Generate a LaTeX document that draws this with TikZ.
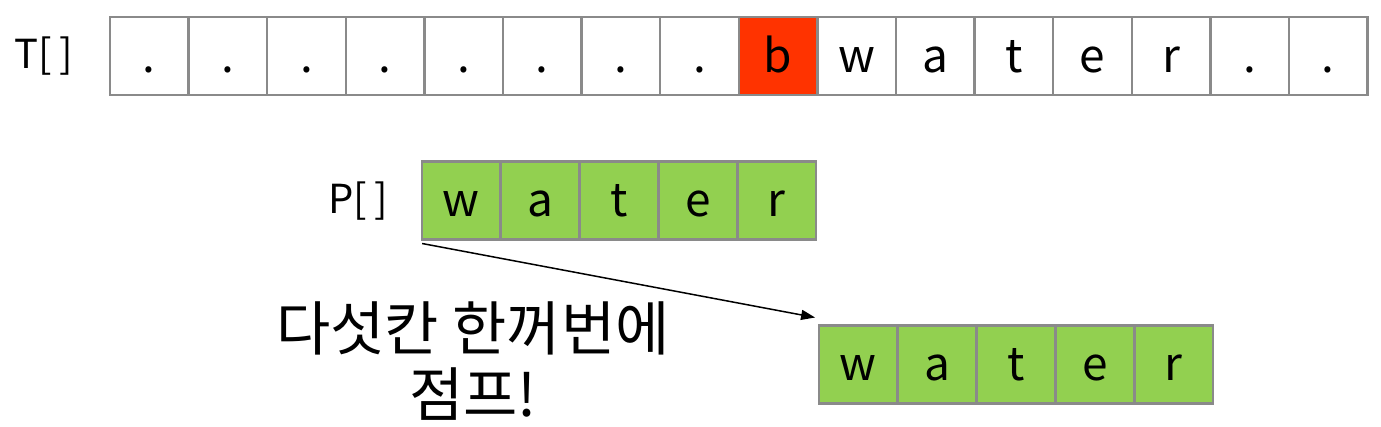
\documentclass[tikz,border=0pt]{standalone}
\usepackage{fontspec}
\setmainfont{Noto Sans CJK KR}
\usepackage{xcolor}
\usetikzlibrary{arrows.meta}
\definecolor{cellgray}{HTML}{8A8A8A}
\definecolor{hitred}{HTML}{FF3300}
\definecolor{patgreen}{HTML}{92D050}

\begin{document}
\begin{tikzpicture}[x=1pt,y=-1pt,
  cell/.style={draw=cellgray,line width=2.5pt,minimum width=78.6pt,minimum height=78pt,inner sep=0pt,outer sep=0pt,text height=40pt,text depth=8pt,font=\fontsize{46}{50}\selectfont},
  pcell/.style={cell,fill=patgreen},
  rowlabel/.style={anchor=base east,font=\fontsize{40}{44}\selectfont}]
   \useasboundingbox (0,0) rectangle (1381,426);
   % text row
   \node[rowlabel] (tlabel) at (77,68) {T[\hspace{0.2em}]};
   \foreach \c/\f [count=\i] in {./white,./white,./white,./white,./white,./white,./white,./white,b/hitred,w/white,a/white,t/white,e/white,r/white,./white,./white}
     \node[cell,fill=\f] (t\i) at (110+78.6*\i-39.3,56) {\c};
   % pattern row
   \node[rowlabel] (plabel) at (392,213) {P[\hspace{0.2em}]};
   \foreach \c [count=\i] in {w,a,t,e,r}
     \node[pcell] (p\i) at (422+78.8*\i-39.4,200.5) {\c};
   % shifted pattern
   \foreach \c [count=\i] in {w,a,t,e,r}
     \node[pcell] (q\i) at (819+78.8*\i-39.4,364.5) {\c};
   \draw[-{Triangle[length=14pt,width=10pt]},line width=1.5pt] ([yshift=-4pt]p1.south west) -- ([shift={(-4pt,8pt)}]q1.north west);
   \node[align=center,font=\fontsize{59}{66}\selectfont] (jump) at (473,361) {다섯칸 한꺼번에\\점프!};
\end{tikzpicture}
\end{document}
